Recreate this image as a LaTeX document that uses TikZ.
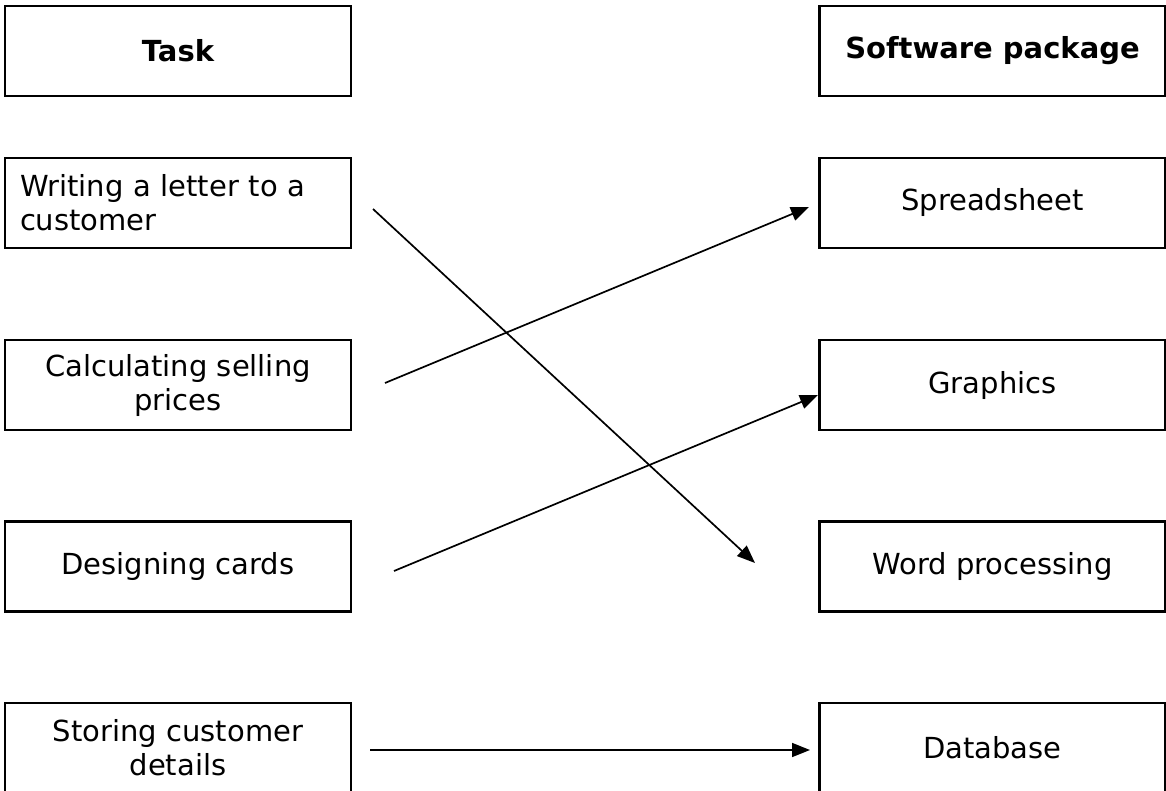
\documentclass[tikz,border=0pt]{standalone}
\usepackage{fontspec}
\setmainfont{DejaVu Sans}
\usetikzlibrary{arrows.meta}
\begin{document}
\begin{tikzpicture}[x=1pt,y=-1pt,
  box/.style={draw, line width=2.4pt, minimum width=346pt, minimum height=90pt,
    inner sep=0pt, align=center, font=\fontsize{29}{34}\selectfont},
  hdr/.style={box, font=\fontsize{29}{34}\selectfont\bfseries},
  conn/.style={line width=1.7pt, -{Triangle[length=18pt,width=14pt]}}]
\clip (0,0) rectangle (1166,791);
\fill[white] (0,0) rectangle (1166,791);
% left column
\node[hdr] (task) at (178,51) {Task};
\node[box, align=left, text width=316pt, inner xsep=15pt] (write) at (178,203) {Writing a letter to a\\customer};
\node[box] (calc) at (178,385) {Calculating selling\\prices};
\node[box] (design) at (178,566.5) {Designing cards};
\node[box] (store) at (178,748) {Storing customer\\details};
% right column
\node[hdr] (soft) at (992.5,51) {Software package};
\node[box] (spread) at (992.5,203) {Spreadsheet};
\node[box] (graph) at (992.5,385) {Graphics};
\node[box] (word) at (992.5,566.5) {Word processing};
\node[box] (db) at (992.5,748) {Database};
% connector ends
\coordinate (w1) at (373,209);
\coordinate (w2) at (755,563);
\coordinate (c1) at (385,383);
\coordinate (c2) at (809,207);
\coordinate (d1) at (394,571);
\coordinate (d2) at (818,395);
\coordinate (s1) at (370,750);
\coordinate (s2) at (810,750);
\draw[conn] (w1) -- (w2);
\draw[conn] (c1) -- (c2);
\draw[conn] (d1) -- (d2);
\draw[conn] (s1) -- (s2);
\end{tikzpicture}
\end{document}
